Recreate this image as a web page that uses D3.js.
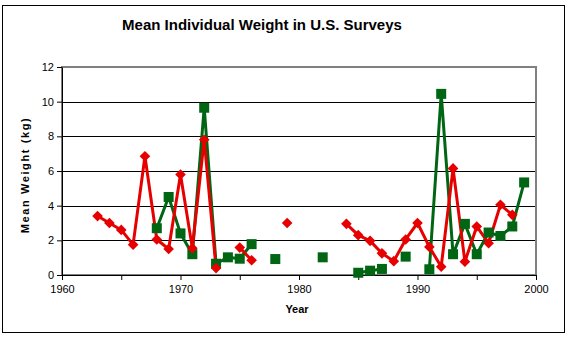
<!DOCTYPE html>
<html>
<head>
<meta charset="utf-8">
<script src="https://cdn.jsdelivr.net/npm/d3@7"></script>
<style>
body{margin:0;background:#fff;}
svg{display:block;font-family:Arial,"Liberation Sans",sans-serif;}
</style>
</head>
<body>
<svg id="chart" width="569" height="339"></svg>
<script>
const years = [1963,1964,1965,1966,1967,1968,1969,1970,1971,1972,1973,1974,1975,1976,1977,1978,1979,1980,1981,1982,1983,1984,1985,1986,1987,1988,1989,1990,1991,1992,1993,1994,1995,1996,1997,1998,1999];
const redValues = [3.4,3.0,2.6,1.75,6.85,2.05,1.5,5.8,1.55,7.8,0.4,null,1.58,0.85,null,null,3.0,null,null,null,null,2.95,2.3,1.97,1.25,0.8,2.05,3.0,1.62,0.48,6.15,0.77,2.8,1.83,4.05,3.47,null];
const greenValues = [null,null,null,null,null,2.7,4.5,2.4,1.2,9.65,0.65,1.02,0.94,1.78,null,0.92,null,null,null,1.02,null,null,0.13,0.25,0.35,null,1.06,null,0.33,10.45,1.2,2.95,1.2,2.45,2.25,2.8,5.34];
const xTicks = [1960,1965,1970,1975,1980,1985,1990,1995,2000];
const xLabels = [1960,1970,1980,1990,2000];
const yTicks = [0,2,4,6,8,10,12];
const titleText = "Mean Individual Weight in U.S. Surveys";
const xTitle = "Year";
const yTitle = "Mean Weight (kg)";

const svg = d3.select("#chart");
// outer border
svg.append("rect").attr("x",2.5).attr("y",5.5).attr("width",562).attr("height",327)
  .attr("fill","#fff").attr("stroke","#000").attr("stroke-width",1);

const L=62, R=536, T=67, B=275;
const x = d3.scaleLinear().domain([1960,2000]).range([L,R]);
const y = d3.scaleLinear().domain([0,12]).range([B,T]);

// gridlines
svg.append("g").selectAll("line").data(yTicks.filter(d=>d>0&&d<12)).join("line")
  .attr("x1",L).attr("x2",R).attr("y1",d=>Math.round(y(d))+0.5).attr("y2",d=>Math.round(y(d))+0.5)
  .attr("stroke","#000").attr("stroke-width",1);

// plot area border
svg.append("rect").attr("x",L).attr("y",T).attr("width",R-L).attr("height",B-T)
  .attr("fill","none").attr("stroke","#808080").attr("stroke-width",2);

// x axis
const xAxis = d3.axisBottom(x).tickValues(xTicks).tickSize(5).tickSizeOuter(0)
  .tickFormat(d=>xLabels.includes(d)?String(d):"");
const gx = svg.append("g").attr("transform",`translate(0,${B})`).call(xAxis);
gx.select(".domain").attr("stroke","#000");
gx.selectAll(".tick line").attr("stroke","#000");
gx.selectAll(".tick text").attr("font-size",11).attr("fill","#000").attr("dy","0.9em")
  .attr("font-family","Arial,'Liberation Sans',sans-serif");

// y axis
const yAxis = d3.axisLeft(y).tickValues(yTicks).tickSize(5).tickSizeOuter(0).tickFormat(d3.format("d"));
const gy = svg.append("g").attr("transform",`translate(${L},0)`).call(yAxis);
gy.select(".domain").attr("stroke","#000");
gy.selectAll(".tick line").attr("stroke","#000");
gy.selectAll(".tick text").attr("font-size",11).attr("fill","#000")
  .attr("font-family","Arial,'Liberation Sans',sans-serif");

// series
const red = "#e60000", green = "#006614";
const redData = years.map((yr,i)=>({yr,v:redValues[i]}));
const greenData = years.map((yr,i)=>({yr,v:greenValues[i]}));
const line = d3.line().defined(d=>d.v!=null).x(d=>x(d.yr)).y(d=>y(d.v));

svg.append("path").datum(greenData).attr("d",line).attr("fill","none")
  .attr("stroke",green).attr("stroke-width",3).attr("stroke-linejoin","round");
svg.append("path").datum(redData).attr("d",line).attr("fill","none")
  .attr("stroke",red).attr("stroke-width",3).attr("stroke-linejoin","round");

svg.append("g").selectAll("rect").data(greenData.filter(d=>d.v!=null)).join("rect")
  .attr("x",d=>x(d.yr)-5).attr("y",d=>y(d.v)-5).attr("width",10).attr("height",10).attr("fill",green);
svg.append("g").selectAll("path").data(redData.filter(d=>d.v!=null)).join("path")
  .attr("d",d3.symbol().type(d3.symbolDiamond2).size(72))
  .attr("transform",d=>`translate(${x(d.yr)},${y(d.v)})`).attr("fill",red);

// titles
svg.append("text").attr("x",262).attr("y",30).attr("text-anchor","middle")
  .attr("font-size",15).attr("font-weight","bold").text(titleText);
svg.append("text").attr("x",297).attr("y",313).attr("text-anchor","middle")
  .attr("font-size",11).attr("font-weight","bold").text(xTitle);
svg.append("text").attr("transform",`translate(29,175) rotate(-90)`).attr("text-anchor","middle")
  .attr("font-size",11).attr("font-weight","bold").attr("letter-spacing",1.6).text(yTitle);
</script>
</body>
</html>
